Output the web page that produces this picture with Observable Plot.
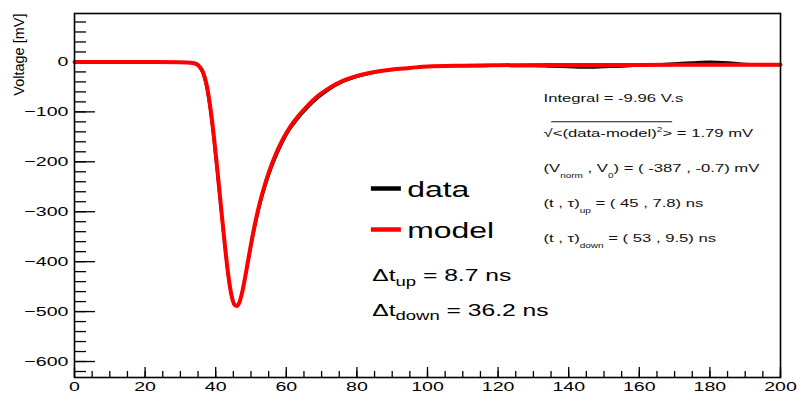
<!DOCTYPE html>
<html><head><meta charset="utf-8">
<script src="https://cdn.jsdelivr.net/npm/d3@7"></script>
<script src="https://cdn.jsdelivr.net/npm/@observablehq/plot@0.6"></script>
<style>html,body{margin:0;padding:0;background:#fff;}</style>
</head><body>
<script>
// ---- data ----
const modelT = [0, 10, 20, 30, 33, 34.5, 35.5, 36.5, 37.5, 38.5, 39.5, 40.5, 41.5, 42.5, 43.5, 44.5, 45.3, 46, 46.8, 47.6, 48.5, 49.5, 50.5, 51.5, 52.5, 53.5, 55, 57, 59, 61, 63, 66, 69, 72, 76, 80, 85, 90, 95, 100, 110, 120, 135, 160, 180, 200];
const modelV = [0, 0, 0, -0.5, -1.5, -4, -10, -22, -48, -92, -150, -218, -290, -360, -423, -468, -486, -489, -480, -458, -425, -385, -346, -312, -282, -256, -222, -185, -155, -131, -112, -88, -68, -53, -38, -28, -20, -15, -12, -9, -7.5, -6.5, -6, -6, -5.5, -5.5];
const dataT = [0, 5, 10, 15, 20, 25, 30, 33, 34.5, 35.5, 36.5, 37.5, 38.5, 39.5, 40.5, 41.5, 42.5, 43.5, 44.5, 45.3, 46, 46.8, 47.6, 48.5, 49.5, 50.5, 51.5, 52.5, 53.5, 55, 57, 59, 61, 63, 66, 69, 72, 76, 80, 85, 90, 95, 100, 105, 110, 115, 120, 125, 130, 135, 140, 145, 150, 155, 160, 165, 170, 175, 180, 185, 190, 195, 200];
const dataV = [0.5, -0.5, 0, -1, 0.5, -0.5, -0.5, -2, -5, -12, -26, -55, -100, -160, -228, -298, -366, -428, -470, -487, -488, -478, -457, -426, -389, -352, -318, -288, -262, -228, -191, -160, -135, -116, -92, -72, -56, -40, -30, -21, -15, -12, -9, -8, -8, -8, -7, -8, -8, -9, -10, -11, -10, -9, -7, -5, -3, -1, 0.5, -1, -4, -6, -6];
const xTicks = [0, 20, 40, 60, 80, 100, 120, 140, 160, 180, 200];
const yTicks = [-600, -500, -400, -300, -200, -100, 0];
const legendLabels = ["data", "model"];
const legendColors = ["#000000", "#ff0000"];
const deltaLines = ["Δt_{up} = 8.7 ns", "Δt_{down} = 36.2 ns"];
const statsLines = [
  "Integral = -9.96 V.s",
  "√#ov{<(data-model)^{2}>} = 1.79 mV",
  "(V_{norm} , V_{0}) = ( -387 , -0.7) mV",
  "(t , τ)_{up} = ( 45 , 7.8) ns",
  "(t , τ)_{down} = ( 53 , 9.5) ns"
];
const yLabel = "Voltage [mV]";

// ---- tables ----
const modelPts = modelT.map((t, i) => ({t, v: modelV[i]}));
const dataPts = dataT.map((t, i) => ({t, v: dataV[i]}));
const xMinor = d3.range(0, 201, 5);
const yMinor = d3.range(-620, 97, 20);

const FONT = "'Liberation Sans', Arial, Helvetica, sans-serif";
const STRETCH = 1.45;

const plot = Plot.plot({
  width: 797, height: 394,
  marginLeft: 74, marginRight: 17, marginTop: 13, marginBottom: 17,
  x: {domain: [0, 200], label: null},
  y: {domain: [-632, 97], label: null},
  style: {fontFamily: FONT, background: "#fff", color: "#000", overflow: "visible"},
  marks: [
    Plot.axisY(yMinor, {tickSize: -12, fill: "none", label: null, strokeWidth: 1.3}),
    Plot.axisY(yTicks, {tickSize: -21, fill: "none", label: null, strokeWidth: 1.3}),
    Plot.axisY(yTicks, {tickSize: 0, tickPadding: 6, fontSize: 13.5, label: null}),
    Plot.axisX(xMinor, {tickSize: -6, fill: "none", label: null, strokeWidth: 1.3}),
    Plot.axisX(xTicks, {tickSize: -10, fill: "none", label: null, strokeWidth: 1.3}),
    Plot.axisX(xTicks, {tickSize: 0, tickPadding: 4, fontSize: 13.5, label: null}),
    Plot.line(dataPts, {x: "t", y: "v", stroke: "#000", strokeWidth: 2.5, curve: "monotone-x"}),
    Plot.line(modelPts, {x: "t", y: "v", stroke: "#ff0000", strokeWidth: 4, curve: "monotone-x"}),
    Plot.frame({stroke: "#000", strokeWidth: 1.6}),
    Plot.text([yLabel], {text: d => d, frameAnchor: "top-left", lineAnchor: "middle", rotate: -90, textAnchor: "end", dx: -55, dy: 0, fontSize: 14.5, fill: "#000"}),
    // legend swatches
    Plot.ruleY([-253.5], {x1: 84.1, x2: 92.6, stroke: legendColors[0], strokeWidth: 4.5}),
    Plot.ruleY([-335.6], {x1: 84.1, x2: 92.6, stroke: legendColors[1], strokeWidth: 4.5}),
    ...legendLabels.map((s, i) => Plot.text([s], {text: d => d, frameAnchor: "top-left", lineAnchor: "middle", textAnchor: "start", dx: 332.7, dy: 176.7 + 40.6 * i, fontSize: 22, fill: "#000"})),
    ...deltaLines.map((s, i) => Plot.text([s], {text: d => d, frameAnchor: "top-left", lineAnchor: "middle", textAnchor: "start", dx: 297.7, dy: 262.3 + 34.3 * i, fontSize: 17, fill: "#000"})),
    ...statsLines.map((s, i) => Plot.text([s], {text: d => d, frameAnchor: "top-left", lineAnchor: "middle", textAnchor: "start", dx: 469, dy: 85 + 35 * i, fontSize: 11.5, fill: "#111"}))
  ]
});
document.body.appendChild(plot);

// ---- ROOT-like text rendering: wide glyphs, sub/superscripts, overline ----
function segments(s, over = false) {
  const out = [];
  const re = /(_|\^)\{([^}]*)\}|#ov\{((?:[^{}]|\{[^}]*\})*)\}/g;
  let last = 0, m;
  while ((m = re.exec(s))) {
    if (m.index > last) out.push({t: s.slice(last, m.index), k: null, over});
    if (m[3] !== undefined) out.push(...segments(m[3], true));
    else out.push({t: m[2], k: m[1] === "_" ? "sub" : "sup", over});
    last = re.lastIndex;
  }
  if (last < s.length) out.push({t: s.slice(last), k: null, over});
  return out;
}
const svgEl = plot.tagName.toLowerCase() === "svg" ? plot : plot.querySelector("svg");
const texts = Array.from(svgEl.querySelectorAll("text"));
texts.forEach(el => {
  if (el.textContent === yLabel) return;
  let pre = "";
  const xa = el.getAttribute("x"), ya = el.getAttribute("y");
  if (xa !== null && /^-?[\d.]+$/.test(xa)) { pre += `translate(${xa},0) `; el.removeAttribute("x"); }
  if (ya !== null && /^-?[\d.]+$/.test(ya)) { pre += `translate(0,${ya}) `; el.removeAttribute("y"); }
  const tr = el.getAttribute("transform") || "";
  el.setAttribute("transform", (tr + " " + pre + `scale(${STRETCH},1)`).trim());
});
texts.forEach(el => {
  const raw = el.textContent;
  if (!/[_^]\{|#ov\{/.test(raw)) return;
  const base = parseFloat(getComputedStyle(el).fontSize) || 12;
  const big = base > 14;
  const subShift = big ? 0.28 : 0.5, subSize = big ? 0.75 : 0.6;
  const segs = segments(raw);
  while (el.firstChild) el.removeChild(el.firstChild);
  let cur = 0, idx = 0, ovStart = null, ovEnd = null;
  const sel = d3.select(el);
  segs.forEach(s => {
    const ts = sel.append("tspan").text(s.t);
    const target = s.k === "sub" ? subShift * base : s.k === "sup" ? -0.45 * base : 0;
    if (target !== cur) ts.attr("dy", target - cur);
    cur = target;
    if (s.k) ts.attr("font-size", base * (s.k === "sub" ? subSize : 0.6));
    if (s.over) { if (ovStart === null) ovStart = idx; ovEnd = idx + s.t.length - 1; }
    idx += s.t.length;
  });
  if (ovStart !== null) {
    let x1 = 0, x2 = 0, yb = 0;
    try {
      x1 = el.getStartPositionOfChar(ovStart).x - 1;
      x2 = el.getEndPositionOfChar(ovEnd).x;
      yb = el.getStartPositionOfChar(0).y;
    } catch (e) {}
    d3.select(el.parentNode).append("line")
      .attr("transform", el.getAttribute("transform"))
      .attr("x1", x1).attr("x2", x2)
      .attr("y1", yb - 1.35 * base).attr("y2", yb - 1.35 * base)
      .attr("stroke", "#111").attr("stroke-width", 1);
  }
});
</script>
</body></html>
